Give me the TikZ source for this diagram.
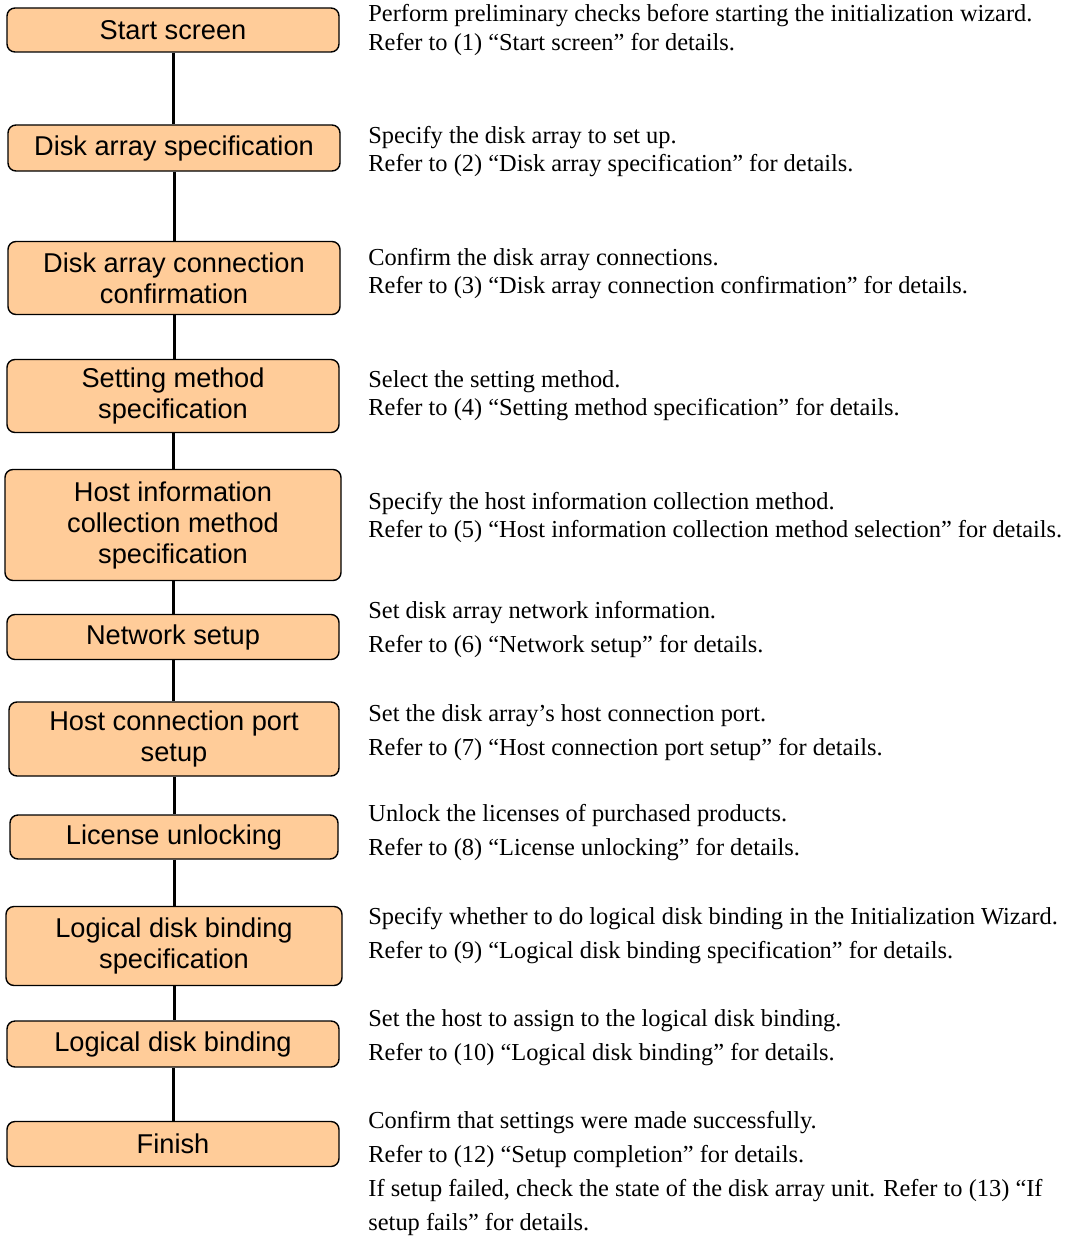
\documentclass[tikz,border=0pt]{standalone}
\usepackage{fontspec}
\setmainfont{Liberation Serif}
\newfontfamily\boxfont{Liberation Sans}
\usetikzlibrary{positioning}
\definecolor{peach}{HTML}{FFCC99}
\tikzset{
  stage/.style={draw,rounded corners=4pt,fill=peach,align=center,
                font=\boxfont\fontsize{13.6}{15.5}\selectfont,
                minimum width=166pt,inner sep=2pt,line width=0.7pt},
  note/.style={anchor=west,align=left,inner sep=0pt,
               font=\fontsize{12.2}{14.3}\selectfont},
  wnote/.style={note,font=\fontsize{12.2}{17}\selectfont},
  link/.style={line width=1.5pt},
}
\begin{document}
\begin{tikzpicture}[x=0.5pt,y=-0.5pt]
\useasboundingbox (0,0) rectangle (1068,1236);

% wizard steps
\node[stage,minimum height=22pt]   (s1)  at (173,30)  {Start screen};
\node[stage,minimum height=23pt]   (s2)  at (174,148) {Disk array specification};
\node[stage,minimum height=36.5pt] (s3)  at (174,278) {Disk array connection\\confirmation};
\node[stage,minimum height=36.5pt] (s4)  at (173,396) {Setting method\\specification};
\node[stage,minimum height=55.5pt,minimum width=168pt] (s5) at (173,525)
     {Host information\\collection method\\specification};
\node[stage,minimum height=22.5pt] (s6)  at (173,637) {Network setup};
\node[stage,minimum height=37pt,minimum width=165pt] (s7) at (174,739)
     {Host connection port\\setup};
\node[stage,minimum height=22pt,minimum width=164pt] (s8) at (174,837)
     {License unlocking};
\node[stage,minimum height=39.5pt,minimum width=168pt] (s9) at (174,946)
     {Logical disk binding\\specification};
\node[stage,minimum height=23pt]   (s10) at (173,1044) {Logical disk binding};
\node[stage,minimum height=22.5pt] (s11) at (173,1144) {Finish};

% connectors
\foreach \a/\b in {s1/s2,s2/s3,s3/s4,s4/s5,s5/s6,s6/s7,s7/s8,s8/s9,s9/s10,s10/s11}
  \draw[link] (\a.south) -- (\a.south |- \b.north);

% descriptions
\node[note] (d1) at (368,30)
  {Perform preliminary checks before starting the initialization wizard.\\
   Refer to (1) “Start screen” for details.};
\node[note] (d2) at (368,151.5)
  {Specify the disk array to set up.\\
   Refer to (2) “Disk array specification” for details.};
\node[note] (d3) at (368,273.5)
  {Confirm the disk array connections.\\
   Refer to (3) “Disk array connection confirmation” for details.};
\node[note] (d4) at (368,395.5)
  {Select the setting method.\\
   Refer to (4) “Setting method specification” for details.};
\node[note] (d5) at (368,517.5)
  {Specify the host information collection method.\\
   Refer to (5) “Host information collection method selection” for details.};
\node[wnote] (d6) at (368,629)
  {Set disk array network information.\\
   Refer to (6) “Network setup” for details.};
\node[wnote] (d7) at (368,732.5)
  {Set the disk array’s host connection port.\\
   Refer to (7) “Host connection port setup” for details.};
\node[wnote] (d8) at (368,833)
  {Unlock the licenses of purchased products.\\
   Refer to (8) “License unlocking” for details.};
\node[wnote] (d9) at (368,936)
  {Specify whether to do logical disk binding in the Initialization Wizard.\\
   Refer to (9) “Logical disk binding specification” for details.};
\node[wnote] (d10) at (368,1038)
  {Set the host to assign to the logical disk binding.\\
   Refer to (10) “Logical disk binding” for details.};
\node[wnote] (d11) at (368,1173)
  {Confirm that settings were made successfully.\\
   Refer to (12) “Setup completion” for details.\\
   If setup failed, check the state of the disk array unit. Refer to (13) “If\\
   setup fails” for details.};
\end{tikzpicture}
\end{document}
